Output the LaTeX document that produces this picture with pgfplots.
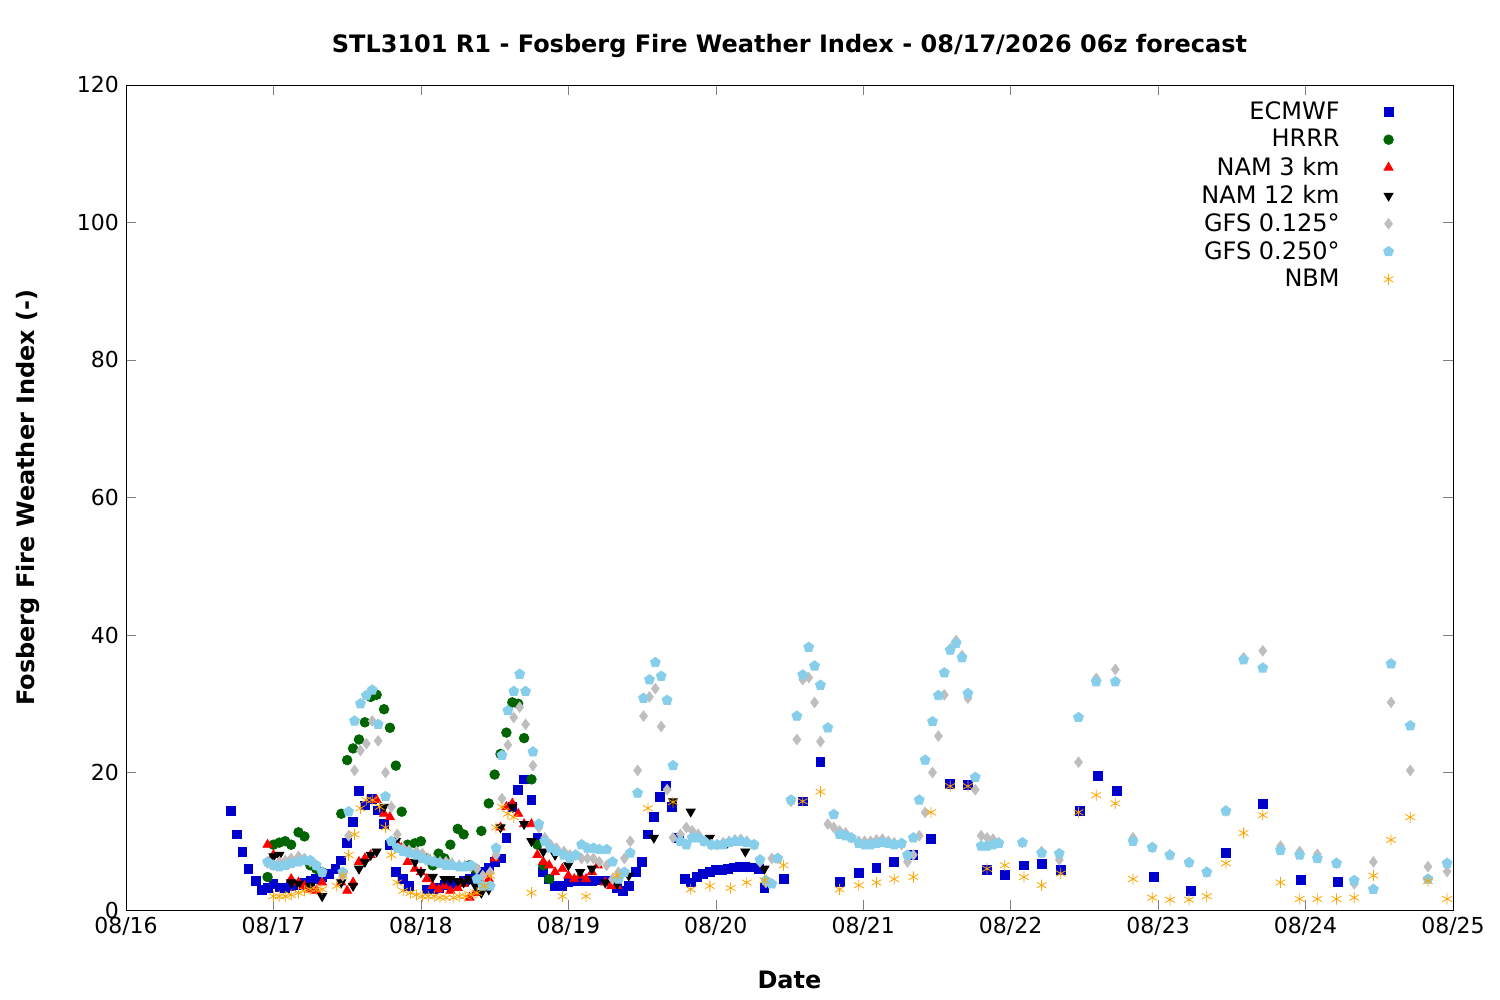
\documentclass[border=0pt]{standalone}
\usepackage{pgfplots}
\pgfplotsset{compat=1.18}
\usepackage{fontspec}
\setmainfont{DejaVu Sans}
\definecolor{ecm}{RGB}{0,0,204}
\definecolor{hrrr}{RGB}{0,100,0}
\definecolor{gfsa}{RGB}{190,190,190}
\definecolor{gfsb}{RGB}{135,206,235}
\definecolor{nbm}{RGB}{255,165,0}
\begin{document}
\begin{tikzpicture}
\path (-63pt,-45pt) rectangle (687pt,455pt);
\begin{axis}[
 at={(0,0)}, anchor=south west, scale only axis,
 width=663.5pt, height=412.5pt,
 xmin=0, xmax=9, ymin=0, ymax=120,
 xtick={0,...,9},
 xticklabels={08/16,08/17,08/18,08/19,08/20,08/21,08/22,08/23,08/24,08/25},
 ytick={0,20,...,120},
 tick align=inside, major tick length=5pt,
 tick label style={font=\fontsize{11}{13}\selectfont},
 /pgf/number format/assume math mode=true,
 xlabel={\textbf{Date}}, ylabel={\textbf{Fosberg Fire Weather Index (-)}},
 label style={font=\fontsize{12}{14}\selectfont},
 xlabel style={yshift=-11pt}, ylabel style={yshift=12pt},
 title={\textbf{STL3101 R1 - Fosberg Fire Weather Index - 08/17/2026 06z forecast}},
 title style={font=\fontsize{12}{14}\selectfont, yshift=4pt},
 legend style={draw=none, fill=none, at={(0.96,0.99)}, anchor=north east, font=\fontsize{12}{14}\selectfont, row sep=-0.5pt, column sep=20pt},
 legend cell align=right, legend plot pos=right,
 only marks,
]
\addplot[mark=square*, mark size=2.2pt, color=ecm, x filter/.expression={ifthenelse(and(x>1.95,x<4.3),x+0.08,x)}] coordinates {
(0.71,14.4)(0.75,11)(0.79,8.4)(0.83,6)(0.88,4.2)(0.92,2.9)(0.96,3.2)(1.0,3.8)(1.04,3.3)(1.08,3.2)(1.12,3.5)(1.17,3.6)(1.21,3.9)(1.25,4.2)(1.29,4.5)(1.33,4.8)(1.38,5.3)(1.42,6)(1.46,7.2)(1.50,9.8)(1.54,12.8)(1.58,17.3)(1.62,15.2)(1.67,16.2)(1.71,14.5)(1.75,12.5)(1.79,9.5)(1.83,5.5)(1.88,4.5)(1.92,3.5)(1.96,3.0)(2.0,3.0)(2.04,3.2)(2.08,3.6)(2.12,3.8)(2.17,4.0)(2.21,4.2)(2.25,4.5)(2.29,4.8)(2.33,5.5)(2.38,6.2)(2.42,7.0)(2.46,7.5)(2.50,10.5)(2.54,15)(2.58,17.5)(2.62,19)(2.67,16)(2.71,10.5)(2.75,5.5)(2.79,4.5)(2.83,3.5)(2.88,3.5)(2.92,4.0)(2.96,4.2)(3.0,4.2)(3.04,4.2)(3.08,4.2)(3.12,4.3)(3.17,4.3)(3.21,4.2)(3.25,3.2)(3.29,2.8)(3.33,3.5)(3.38,5.5)(3.42,7)(3.46,11)(3.50,13.5)(3.54,16.5)(3.58,18)(3.62,15)(3.67,10.5)(3.71,4.5)(3.75,4.0)(3.79,4.8)(3.83,5.2)(3.88,5.5)(3.92,5.8)(3.96,5.8)(4.0,6)(4.04,6.2)(4.08,6.3)(4.12,6.3)(4.17,6.2)(4.21,6.0)(4.25,3.2)(4.46,4.5)(4.59,15.8)(4.71,21.5)(4.84,4.1)(4.97,5.4)(5.09,6.1)(5.21,7)(5.34,8)(5.46,10.3)(5.59,18.3)(5.71,18.2)(5.84,5.8)(5.96,5.1)(6.09,6.5)(6.21,6.7)(6.34,5.8)(6.47,14.4)(6.59,19.5)(6.72,17.3)(6.97,4.8)(7.22,2.8)(7.46,8.3)(7.71,15.4)(7.97,4.4)(8.22,4.1)
};
\addlegendentry{ECMWF}
\addplot[mark=*, mark size=2.4pt, color=hrrr, x filter/.expression={ifthenelse(x>1.36,x+0.08,x)}] coordinates {
(0.96,4.8)(1.0,9.5)(1.04,9.8)(1.08,10)(1.12,9.5)(1.17,11.3)(1.21,10.7)(1.25,6.5)(1.29,6)(1.33,5.5)(1.38,14)(1.42,21.8)(1.46,23.5)(1.50,24.8)(1.54,27.3)(1.58,31)(1.62,31.3)(1.67,29.2)(1.71,26.5)(1.75,21)(1.79,14.3)(1.83,9.5)(1.88,9.7)(1.92,10)(1.96,7.5)(2.0,6.5)(2.04,8.2)(2.08,7.5)(2.12,9.5)(2.17,11.8)(2.21,11)(2.25,6.5)(2.29,6)(2.33,11.5)(2.38,15.5)(2.42,19.7)(2.46,22.7)(2.50,25.8)(2.54,30.2)(2.58,30)(2.62,25)(2.67,19)(2.71,9.5)(2.75,6.5)(2.79,4.5)
};
\addlegendentry{HRRR}
\addplot[mark=triangle*, mark size=2.6pt, color=red, x filter/.expression={ifthenelse(x>1.36,x+0.08,x)}] coordinates {
(0.96,9.5)(1.0,8)(1.04,7)(1.08,6.5)(1.12,4.5)(1.17,4)(1.21,3.5)(1.25,3.0)(1.29,2.8)(1.33,4)(1.38,4)(1.42,2.8)(1.46,4)(1.50,7)(1.54,7.5)(1.58,8)(1.62,16)(1.67,14)(1.71,13.5)(1.75,10)(1.79,9)(1.83,7)(1.88,6)(1.92,5.5)(1.96,4.5)(2.0,3.5)(2.04,3.0)(2.08,3.5)(2.12,2.8)(2.17,3.2)(2.21,3.8)(2.25,1.8)(2.29,2.5)(2.33,4)(2.38,4.5)(2.42,7.5)(2.46,12)(2.50,15)(2.54,15.5)(2.58,14)(2.62,12.5)(2.67,12.5)(2.71,8)(2.75,7)(2.79,6.5)(2.83,5.5)(2.88,6)(2.92,5)(2.96,4.5)(3.0,5)(3.04,4.5)(3.08,5.5)(3.12,6.5)(3.17,4)(3.21,3.5)(3.25,3.5)
};
\addlegendentry{NAM 3 km}
\addplot[mark=triangle*, mark options={rotate=180}, mark size=2.6pt, color=black, x filter/.expression={ifthenelse(and(x>1.36,x<3.5),x+0.08,x)}] coordinates {
(1.0,7.8)(1.04,8)(1.12,4)(1.17,3.8)(1.25,3.5)(1.33,2)(1.38,4)(1.46,3.5)(1.50,6)(1.54,7)(1.58,8)(1.62,8.5)(1.67,15)(1.75,10)(1.79,9)(1.88,7)(1.92,5.5)(2.0,4.8)(2.08,4.5)(2.12,4.5)(2.17,4.2)(2.21,4.0)(2.25,4.5)(2.29,3.5)(2.33,2.5)(2.38,3)(2.46,12)(2.54,15)(2.62,12.5)(2.67,10)(2.75,8.5)(2.83,8)(2.92,6.5)(3.0,5.5)(3.08,6.0)(3.17,4)(3.25,3.8)(3.33,5)(3.58,10.5)(3.71,15.8)(3.83,14.3)(3.96,10.5)(4.08,9.8)(4.2,8.5)(4.33,6)
};
\addlegendentry{NAM 12 km}
\addplot[mark=diamond*, mark size=2.6pt, color=gfsa, x filter/.expression={ifthenelse(and(x>1.36,x<5.9),x+0.09,x)}] coordinates {
(0.96,6.8)(1.0,6.5)(1.04,7)(1.08,7.2)(1.12,7.5)(1.17,7.8)(1.21,7.5)(1.25,7)(1.29,6.5)(1.33,5.5)(1.38,5)(1.42,10.8)(1.46,20.3)(1.50,23.2)(1.54,24.2)(1.58,27.5)(1.62,24.6)(1.67,20)(1.71,15)(1.75,11)(1.79,9)(1.83,8.7)(1.88,8.5)(1.92,8.2)(1.96,7.5)(2.0,7.2)(2.04,7)(2.08,7)(2.12,6.8)(2.17,6.5)(2.21,6.5)(2.25,6.3)(2.29,6)(2.33,5)(2.38,5.5)(2.42,8)(2.46,16.2)(2.50,24)(2.54,28)(2.58,29.5)(2.62,27)(2.67,21)(2.71,12)(2.75,10.5)(2.79,9.5)(2.83,9)(2.88,8.5)(2.92,8)(2.96,8)(3.0,7.5)(3.04,7.5)(3.08,7.5)(3.12,7)(3.17,6.5)(3.21,4.5)(3.25,5.5)(3.29,7.5)(3.33,10)(3.38,20.3)(3.42,28.2)(3.46,31)(3.50,32.2)(3.54,26.7)(3.58,17.5)(3.62,10.5)(3.67,11)(3.71,12)(3.75,11.5)(3.79,11)(3.83,10)(3.88,9.5)(3.92,9.5)(3.96,9.8)(4.0,10)(4.04,10.2)(4.08,10.3)(4.12,10)(4.17,9.5)(4.21,7)(4.25,4)(4.29,7.5)(4.33,7.5)(4.42,15.8)(4.46,24.8)(4.50,33.5)(4.54,33.8)(4.58,30.2)(4.62,24.5)(4.67,12.5)(4.71,12)(4.75,11.5)(4.79,11.2)(4.83,10.5)(4.88,10)(4.92,10)(4.96,10)(5.0,10.2)(5.04,10.3)(5.08,10)(5.12,9.8)(5.17,9.5)(5.21,7)(5.25,8)(5.29,10.8)(5.33,14.2)(5.38,20)(5.42,25.3)(5.46,31.3)(5.50,38)(5.54,39.2)(5.58,37)(5.62,30.8)(5.67,17.5)(5.71,10.8)(5.75,10.5)(5.79,10.3)(5.83,9.8)(6.08,9.8)(6.21,8.5)(6.33,7.3)(6.46,21.5)(6.58,33.7)(6.71,35)(6.83,10.5)(6.96,9.1)(7.08,8)(7.21,6.9)(7.33,5.5)(7.46,14.4)(7.58,36.7)(7.71,37.7)(7.83,9.3)(7.96,8.5)(8.08,8.1)(8.21,6.8)(8.33,3.8)(8.46,7)(8.58,30.2)(8.71,20.3)(8.83,6.3)(8.96,5.6)
};
\addlegendentry{GFS 0.125°}
\addplot[mark=pentagon*, mark size=2.6pt, color=gfsb, x filter/.expression={ifthenelse(and(x>1.36,x<5.9),x+0.09,x)}] coordinates {
(0.96,7)(1.0,6.5)(1.04,6.3)(1.08,6.5)(1.12,6.8)(1.17,7)(1.21,7.2)(1.25,7.2)(1.29,6.5)(1.33,5.5)(1.38,5.5)(1.42,14.3)(1.46,27.5)(1.50,30)(1.54,31.2)(1.58,32)(1.62,27)(1.67,16.5)(1.71,10)(1.75,9)(1.79,8.5)(1.83,8.3)(1.88,8)(1.92,7.5)(1.96,7.2)(2.0,7)(2.04,6.8)(2.08,6.5)(2.12,6.5)(2.17,6.3)(2.21,6.3)(2.25,6.5)(2.29,4.5)(2.33,3.5)(2.38,3.5)(2.42,9)(2.46,22.5)(2.50,29)(2.54,31.8)(2.58,34.3)(2.62,31.8)(2.67,23)(2.71,12.5)(2.75,10)(2.79,9)(2.83,8.5)(2.88,8)(2.92,7.5)(2.96,8)(3.0,9.5)(3.04,9)(3.08,9)(3.12,8.8)(3.17,8.8)(3.21,7)(3.25,4.5)(3.29,5.5)(3.33,8.3)(3.38,17)(3.42,30.8)(3.46,33.5)(3.50,36)(3.54,34)(3.58,30.5)(3.62,21)(3.67,10)(3.71,9.5)(3.75,10.5)(3.79,10.5)(3.83,10)(3.88,9.5)(3.92,9.5)(3.96,9.5)(4.0,9.8)(4.04,10)(4.08,10)(4.12,9.8)(4.17,9.5)(4.21,7.3)(4.25,4.3)(4.29,3.8)(4.33,7.5)(4.42,16)(4.46,28.2)(4.50,34.2)(4.54,38.2)(4.58,35.5)(4.62,32.7)(4.67,26.5)(4.71,13.9)(4.75,11)(4.79,10.8)(4.83,10.5)(4.88,9.7)(4.92,9.5)(4.96,9.5)(5.0,9.7)(5.04,9.8)(5.08,9.7)(5.12,9.5)(5.17,9.7)(5.21,8)(5.25,10.5)(5.29,16)(5.33,21.8)(5.38,27.4)(5.42,31.2)(5.46,34.5)(5.50,37.8)(5.54,38.8)(5.58,36.7)(5.62,31.5)(5.67,19.3)(5.71,9.3)(5.75,9.3)(5.79,9.5)(5.83,9.7)(6.08,9.8)(6.21,8.3)(6.33,8.2)(6.46,28)(6.58,33.2)(6.71,33.2)(6.83,10)(6.96,9.1)(7.08,8)(7.21,6.9)(7.33,5.5)(7.46,14.4)(7.58,36.4)(7.71,35.2)(7.83,8.7)(7.96,8)(8.08,7.5)(8.21,6.8)(8.33,4.3)(8.46,3)(8.58,35.8)(8.71,26.8)(8.83,4.5)(8.96,6.8)
};
\addlegendentry{GFS 0.250°}
\addplot[mark=asterisk, mark size=2.8pt, color=nbm, x filter/.expression={ifthenelse(and(x>1.36,x<2.7),x+0.05,x)}] coordinates {
(1.0,2)(1.04,2)(1.08,2)(1.12,2.2)(1.17,2.5)(1.21,2.8)(1.25,3)(1.29,3)(1.33,3)(1.38,3.5)(1.42,5)(1.46,8)(1.50,11)(1.54,14.8)(1.58,16)(1.62,16)(1.67,15)(1.71,12)(1.75,8)(1.79,4)(1.83,2.8)(1.88,2.5)(1.92,2.2)(1.96,2)(2.0,2)(2.04,2)(2.08,1.8)(2.12,1.8)(2.17,1.8)(2.21,2)(2.25,2)(2.29,2.2)(2.33,2.5)(2.38,3.5)(2.42,5)(2.46,12)(2.50,15)(2.54,14)(2.58,13.5)(2.75,2.5)(2.96,2)(3.12,2)(3.33,5)(3.54,14.8)(3.71,15.7)(3.83,3)(3.96,3.5)(4.1,3.2)(4.21,4)(4.33,4.3)(4.46,6.5)(4.59,15.8)(4.71,17.2)(4.84,3)(4.97,3.6)(5.09,4)(5.21,4.5)(5.34,4.8)(5.46,14.2)(5.59,18)(5.71,18)(5.84,6)(5.96,6.5)(6.09,4.8)(6.21,3.6)(6.34,5.3)(6.46,14.2)(6.58,16.7)(6.71,15.5)(6.83,4.5)(6.96,1.8)(7.08,1.5)(7.21,1.5)(7.33,2)(7.46,6.8)(7.58,11.2)(7.71,13.8)(7.83,4)(7.96,1.6)(8.08,1.6)(8.21,1.6)(8.33,1.8)(8.46,5)(8.58,10.2)(8.71,13.5)(8.83,4.2)(8.96,1.6)
};
\addlegendentry{NBM}
\end{axis}
\end{tikzpicture}
\end{document}
